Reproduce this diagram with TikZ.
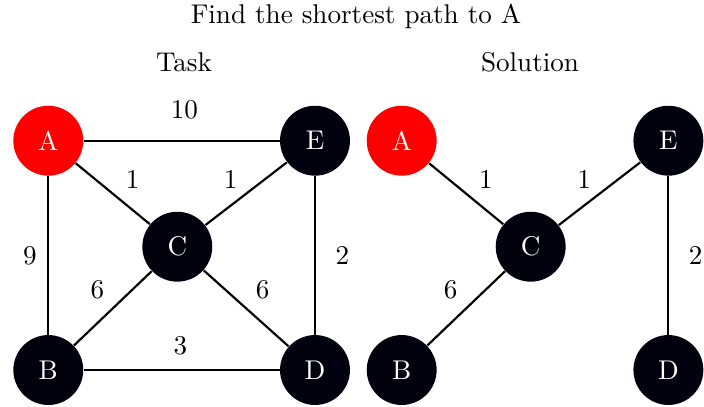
\documentclass[tikz,border=0pt]{standalone}
\definecolor{nodedark}{RGB}{2,2,14}
\begin{document}
\begin{tikzpicture}[x=0.369pt, y=-0.369pt,
    vertex/.style={circle, fill=nodedark, text=white, minimum size=25.8pt, inner sep=0pt},
    start/.style={vertex, fill=red},
    edge/.style={thick},
    wt/.style={inner sep=0pt}]
    \useasboundingbox (0,0) rectangle (704,406);

    % Headings
    \node[anchor=base] (title) at (356,23.5) {Find the shortest path to A};
    \node[anchor=base] (task) at (184,71) {Task};
    \node[anchor=base] (sol) at (530,71) {Solution};

    % Task graph
    \node[start] (A) at (48.3,140.7) {A};
    \node[vertex] (E) at (315,140.7) {E};
    \node[vertex] (C) at (177.3,246.7) {C};
    \node[vertex] (B) at (48.3,370) {B};
    \node[vertex] (D) at (315,370) {D};

    \draw[edge] (A) -- node[wt, xshift=1pt, yshift=11.3pt] {10} (E);
    \draw[edge] (A) -- node[wt, xshift=7.3pt, yshift=5.2pt] {1} (C);
    \draw[edge] (C) -- node[wt, xshift=-5.7pt, yshift=5.1pt] {1} (E);
    \draw[edge] (A) -- node[wt, xshift=-6.8pt] {9} (B);
    \draw[edge] (E) -- node[wt, xshift=10.1pt] {2} (D);
    \draw[edge] (B) -- node[wt, xshift=-5.7pt, yshift=6.8pt] {6} (C);
    \draw[edge] (C) -- node[wt, xshift=6.1pt, yshift=6.8pt] {6} (D);
    \draw[edge] (B) -- node[wt, xshift=-0.5pt, yshift=9.1pt] {3} (D);

    % Solution graph
    \begin{scope}[xshift=130.4pt]
        \node[start] (sA) at (48.3,140.7) {A};
        \node[vertex] (sE) at (315,140.7) {E};
        \node[vertex] (sC) at (177.3,246.7) {C};
        \node[vertex] (sB) at (48.3,370) {B};
        \node[vertex] (sD) at (315,370) {D};

        \draw[edge] (sA) -- node[wt, xshift=7.3pt, yshift=5.2pt] {1} (sC);
        \draw[edge] (sC) -- node[wt, xshift=-5.7pt, yshift=5.1pt] {1} (sE);
        \draw[edge] (sE) -- node[wt, xshift=10.1pt] {2} (sD);
        \draw[edge] (sB) -- node[wt, xshift=-5.7pt, yshift=6.8pt] {6} (sC);
    \end{scope}
\end{tikzpicture}
\end{document}
